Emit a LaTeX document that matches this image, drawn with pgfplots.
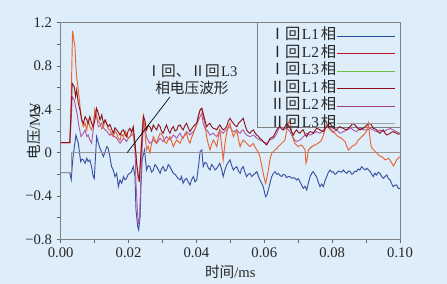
\documentclass[border=0pt]{standalone}
\usepackage{pgfplots}
\pgfplotsset{compat=1.18}
\usepackage{fontspec}
\setmainfont{Liberation Serif}
\newfontfamily\cjk{Noto Sans CJK SC}
\definecolor{bg}{RGB}{221,238,250}
\definecolor{cblue}{RGB}{58,80,160}
\definecolor{corange}{RGB}{232,100,50}
\definecolor{cdred}{RGB}{140,20,30}
\definecolor{cpurple}{RGB}{176,90,168}
\definecolor{cgreen}{RGB}{120,190,60}
\definecolor{cgrey}{RGB}{150,150,150}
\definecolor{lblue}{RGB}{32,80,160}
\definecolor{lred}{RGB}{192,16,42}
\definecolor{lgreen}{RGB}{112,192,64}
\definecolor{ldred}{RGB}{139,10,26}
\definecolor{lpurple}{RGB}{160,64,128}
\definecolor{lgrey}{RGB}{160,160,160}
\begin{document}
\begin{tikzpicture}
\fill[bg] (-45.5pt,-33.5pt) rectangle (289.75pt,179.5pt);
\useasboundingbox (-45.5pt,-33.5pt) rectangle (289.75pt,179.5pt);
\begin{axis}[
  at={(0pt,0pt)}, anchor=south west,
  scale only axis, width=254.5pt, height=162.5pt,
  xmin=0, xmax=0.1, ymin=-0.8, ymax=1.2,
  axis line style={draw=black!50, line width=0.7pt},
  tick style={draw=black!60, line width=0.6pt},
  tick align=outside, tick pos=left,
  major tick length=3pt, minor tick length=3pt,
  xtick={0,0.02,0.04,0.06,0.08,0.1},
  xticklabels={0.00,0.02,0.04,0.06,0.08,0.10},
  minor xtick={0.01,0.03,0.05,0.07,0.09},
  ytick={-0.8,-0.4,0,0.4,0.8,1.2},
  yticklabels={−0.8,−0.4,0,0.4,0.8,1.2},
  minor ytick={-0.6,-0.2,0.2,0.6,1.0},
  tick label style={font=\fontsize{11}{13}\selectfont, text=black!85},
  xlabel={{\cjk 时间}/ms},
  label style={font=\fontsize{11}{13}\selectfont, text=black!85},
  xlabel style={at={(axis description cs:0.5,-0.152)}, anchor=center},
  legend style={at={(rel axis cs:1,1)}, anchor=north east, draw=none, fill=none,
    font=\fontsize{11.5}{12}\selectfont, text=black!85, inner xsep=3pt, inner ysep=4.6pt, row sep=2.1pt,
    nodes={inner sep=0.5pt, text height=7.5pt, text depth=2.5pt}},
  legend cell align=left, legend plot pos=right,
  legend image code/.code={\draw[#1] (0pt,0pt) -- (43.5pt,0pt);},
  clip=true,
]
\addlegendimage{color=lblue, line width=0.6pt}
\addlegendentry{{\cjk Ⅰ回}\hspace{1pt}L1\hspace{1.5pt}{\cjk 相}}
\addlegendimage{color=lred, line width=0.6pt}
\addlegendentry{{\cjk Ⅰ回}\hspace{1pt}L2\hspace{1.5pt}{\cjk 相}}
\addlegendimage{color=lgreen, line width=0.6pt}
\addlegendentry{{\cjk Ⅰ回}\hspace{1pt}L3\hspace{1.5pt}{\cjk 相}}
\addlegendimage{color=ldred, line width=0.6pt}
\addlegendentry{{\cjk Ⅱ回}\hspace{1pt}L1\hspace{1.5pt}{\cjk 相}}
\addlegendimage{color=lpurple, line width=0.6pt}
\addlegendentry{{\cjk Ⅱ回}\hspace{1pt}L2\hspace{1.5pt}{\cjk 相}}
\addlegendimage{color=lgrey, line width=0.6pt}
\addlegendentry{{\cjk Ⅱ回}\hspace{1pt}L3\hspace{1.5pt}{\cjk 相}}

% legend frame (drawn under the curves)
\draw[black!50, line width=0.7pt] (axis cs:0.0581,0.228) rectangle (axis cs:0.1,1.2);

% I L3 (green)
\addplot[forget plot, color=cgreen, line width=0.7pt] coordinates {
(0,-0.185) (0.0033,-0.185) (0.0033,0) (0.1,0)};
% I L1 (blue)
\addplot[forget plot, color=cblue, line width=0.7pt] coordinates {
(0,-0.185) (0.0027,-0.185) (0.0031,-0.25) (0.0036,-0.05) (0.0045,0.163) (0.0052,0.086) (0.0059,-0.083) (0.0063,-0.06) (0.0067,-0.067) (0.0072,-0.098) (0.0077,-0.052) (0.0081,-0.083) (0.0086,-0.067) (0.0091,-0.129) (0.0096,-0.221) (0.0099,-0.24) (0.0106,0.148) (0.0111,0.09) (0.0116,0.04) (0.0126,-0.037) (0.0136,0.056) (0.0140,0.04) (0.0145,-0.037) (0.0150,-0.129) (0.0155,-0.16) (0.0160,-0.221) (0.0165,-0.191) (0.0170,-0.314) (0.0175,-0.252) (0.0180,-0.283) (0.0185,-0.221) (0.0190,-0.25) (0.0194,-0.237) (0.0199,-0.2) (0.0204,-0.191) (0.0209,-0.175) (0.0214,-0.129) (0.0219,-0.221) (0.0222,-0.53) (0.0227,-0.683) (0.0230,-0.714) (0.0234,-0.591) (0.0237,-0.283) (0.0240,-0.067) (0.0247,0.025) (0.0253,-0.16) (0.0258,-0.12) (0.0263,-0.129) (0.0268,-0.18) (0.0273,-0.16) (0.0278,-0.11) (0.0283,-0.129) (0.0288,-0.16) (0.0293,-0.191) (0.0297,-0.15) (0.0302,-0.129) (0.0307,-0.17) (0.0312,-0.16) (0.0317,-0.11) (0.0322,-0.129) (0.0327,-0.16) (0.0332,-0.191) (0.0337,-0.2) (0.0342,-0.221) (0.0347,-0.24) (0.0352,-0.252) (0.0356,-0.22) (0.0361,-0.283) (0.0366,-0.25) (0.0371,-0.237) (0.0376,-0.27) (0.0381,-0.298) (0.0386,-0.25) (0.0391,-0.221) (0.0396,-0.27) (0.0401,-0.252) (0.0406,-0.129) (0.0411,0.01) (0.0416,0.025) (0.0420,-0.129) (0.0425,-0.09) (0.0430,-0.098) (0.0435,-0.14) (0.0440,-0.16) (0.0445,-0.11) (0.0450,-0.129) (0.0455,-0.16) (0.0460,-0.145) (0.0465,-0.12) (0.0469,-0.098) (0.0474,-0.15) (0.0479,-0.221) (0.0484,-0.16) (0.0489,-0.114) (0.0494,-0.09) (0.0499,-0.067) (0.0504,-0.12) (0.0509,-0.16) (0.0514,-0.14) (0.0519,-0.129) (0.0524,-0.17) (0.0529,-0.191) (0.0533,-0.15) (0.0538,-0.129) (0.0543,-0.18) (0.0548,-0.221) (0.0553,-0.2) (0.0558,-0.191) (0.0563,-0.22) (0.0568,-0.206) (0.0573,-0.19) (0.0578,-0.175) (0.0583,-0.22) (0.0587,-0.252) (0.0592,-0.28) (0.0597,-0.314) (0.0601,-0.37) (0.0604,-0.406) (0.0608,-0.39) (0.0612,-0.344) (0.0617,-0.28) (0.0622,-0.221) (0.0627,-0.19) (0.0632,-0.175) (0.0637,-0.2) (0.0641,-0.191) (0.0646,-0.21) (0.0651,-0.221) (0.0656,-0.2) (0.0661,-0.206) (0.0666,-0.23) (0.0671,-0.221) (0.0676,-0.22) (0.0681,-0.237) (0.0688,-0.23) (0.0695,-0.252) (0.0700,-0.24) (0.0705,-0.268) (0.0710,-0.3) (0.0715,-0.329) (0.0720,-0.31) (0.0725,-0.344) (0.0730,-0.28) (0.0735,-0.221) (0.0740,-0.19) (0.0744,-0.175) (0.0749,-0.2) (0.0754,-0.221) (0.0759,-0.27) (0.0764,-0.314) (0.0769,-0.29) (0.0774,-0.314) (0.0779,-0.26) (0.0784,-0.221) (0.0789,-0.18) (0.0794,-0.16) (0.0798,-0.18) (0.0803,-0.175) (0.0808,-0.2) (0.0813,-0.191) (0.0818,-0.17) (0.0823,-0.175) (0.0828,-0.18) (0.0833,-0.16) (0.0838,-0.18) (0.0843,-0.191) (0.0848,-0.17) (0.0853,-0.175) (0.0858,-0.2) (0.0862,-0.191) (0.0867,-0.17) (0.0872,-0.175) (0.0877,-0.15) (0.0882,-0.16) (0.0887,-0.13) (0.0892,-0.145) (0.0897,-0.16) (0.0902,-0.145) (0.0907,-0.16) (0.0912,-0.175) (0.0917,-0.2) (0.0921,-0.221) (0.0926,-0.19) (0.0931,-0.206) (0.0936,-0.18) (0.0941,-0.191) (0.0946,-0.22) (0.0951,-0.237) (0.0956,-0.22) (0.0961,-0.206) (0.0966,-0.24) (0.0971,-0.252) (0.0976,-0.29) (0.0980,-0.314) (0.0985,-0.3) (0.0990,-0.298) (0.0995,-0.33) (0.1,-0.329)};
% II L3 (grey)
\addplot[forget plot, color=cgrey, line width=0.7pt] coordinates {
(0,-0.185) (0.0031,-0.185) (0.0031,0) (0.1,0)};
% II L2 (purple)
\addplot[forget plot, color=cpurple, line width=0.7pt] coordinates {
(0,0.093) (0.0027,0.093) (0.0031,0.3) (0.0034,0.517) (0.0040,0.487) (0.0044,0.425) (0.0048,0.363) (0.0054,0.24) (0.0060,0.148) (0.0067,0.179) (0.0072,0.21) (0.0077,0.148) (0.0081,0.164) (0.0086,0.117) (0.0091,0.087) (0.0096,0.21) (0.0101,0.394) (0.0106,0.333) (0.0111,0.24) (0.0116,0.25) (0.0121,0.271) (0.0126,0.23) (0.0131,0.21) (0.0136,0.2) (0.0140,0.179) (0.0145,0.16) (0.0150,0.179) (0.0155,0.15) (0.0160,0.148) (0.0165,0.133) (0.0170,0.11) (0.0175,0.086) (0.0180,0.11) (0.0185,0.133) (0.0190,0.12) (0.0194,0.102) (0.0199,0.13) (0.0204,0.148) (0.0209,0.16) (0.0214,0.179) (0.0219,0.025) (0.0222,-0.283) (0.0226,-0.53) (0.0229,-0.653) (0.0232,-0.622) (0.0236,-0.283) (0.0240,0.025) (0.0244,0.271) (0.0249,0.21) (0.0253,0.148) (0.0258,0.11) (0.0263,0.086) (0.0268,0.1) (0.0273,0.117) (0.0278,0.1) (0.0283,0.086) (0.0288,0.11) (0.0293,0.133) (0.0297,0.12) (0.0302,0.102) (0.0307,0.13) (0.0312,0.148) (0.0317,0.13) (0.0322,0.117) (0.0327,0.14) (0.0332,0.163) (0.0337,0.15) (0.0342,0.133) (0.0347,0.16) (0.0352,0.179) (0.0356,0.15) (0.0361,0.133) (0.0366,0.17) (0.0371,0.194) (0.0376,0.18) (0.0381,0.163) (0.0386,0.18) (0.0391,0.194) (0.0396,0.22) (0.0401,0.256) (0.0406,0.3) (0.0411,0.333) (0.0416,0.363) (0.0420,0.27) (0.0425,0.225) (0.0430,0.21) (0.0435,0.19) (0.0440,0.163) (0.0445,0.17) (0.0450,0.179) (0.0455,0.16) (0.0460,0.148) (0.0465,0.18) (0.0469,0.21) (0.0474,0.19) (0.0479,0.179) (0.0484,0.2) (0.0489,0.21) (0.0494,0.23) (0.0499,0.24) (0.0504,0.21) (0.0509,0.194) (0.0514,0.2) (0.0519,0.21) (0.0524,0.19) (0.0529,0.179) (0.0533,0.2) (0.0538,0.21) (0.0543,0.18) (0.0548,0.163) (0.0553,0.155) (0.0558,0.148) (0.0563,0.155) (0.0568,0.163) (0.0573,0.15) (0.0578,0.133) (0.0583,0.125) (0.0587,0.117) (0.0592,0.11) (0.0597,0.102) (0.0602,0.095) (0.0607,0.086) (0.0612,0.1) (0.0617,0.117) (0.0622,0.125) (0.0627,0.133) (0.0632,0.15) (0.0637,0.179) (0.0641,0.21) (0.0646,0.24) (0.0651,0.225) (0.0656,0.21) (0.0661,0.22) (0.0666,0.225) (0.0671,0.21) (0.0676,0.194) (0.0681,0.16) (0.0686,0.133) (0.0690,0.115) (0.0695,0.102) (0.0700,0.11) (0.0705,0.117) (0.0710,0.13) (0.0715,0.148) (0.0720,0.16) (0.0725,0.179) (0.0730,0.17) (0.0735,0.163) (0.0740,0.17) (0.0744,0.179) (0.0749,0.185) (0.0754,0.194) (0.0759,0.185) (0.0764,0.179) (0.0769,0.195) (0.0774,0.21) (0.0779,0.225) (0.0784,0.24) (0.0789,0.23) (0.0794,0.225) (0.0798,0.21) (0.0803,0.194) (0.0808,0.2) (0.0813,0.21) (0.0818,0.195) (0.0823,0.179) (0.0828,0.185) (0.0833,0.194) (0.0838,0.2) (0.0843,0.21) (0.0848,0.215) (0.0853,0.225) (0.0858,0.22) (0.0862,0.21) (0.0867,0.2) (0.0872,0.194) (0.0877,0.21) (0.0882,0.225) (0.0887,0.215) (0.0892,0.21) (0.0897,0.21) (0.0902,0.21) (0.0907,0.215) (0.0912,0.225) (0.0917,0.215) (0.0921,0.21) (0.0926,0.2) (0.0931,0.194) (0.0936,0.2) (0.0941,0.21) (0.0946,0.2) (0.0951,0.194) (0.0956,0.2) (0.0961,0.21) (0.0966,0.215) (0.0971,0.225) (0.0976,0.215) (0.0980,0.21) (0.0985,0.2) (0.0990,0.194) (0.0995,0.185) (0.1,0.179)};
% I L2 (orange)
\addplot[forget plot, color=corange, line width=0.7pt] coordinates {
(0,0.093) (0.0027,0.093) (0.0031,0.5) (0.0035,1.127) (0.0039,1.04) (0.0042,0.979) (0.0045,0.79) (0.0047,0.702) (0.0052,0.58) (0.0057,0.43) (0.0062,0.30) (0.0067,0.24) (0.0072,0.271) (0.0077,0.21) (0.0081,0.302) (0.0086,0.24) (0.0091,0.21) (0.0096,0.271) (0.0101,0.394) (0.0106,0.333) (0.0111,0.29) (0.0116,0.271) (0.0121,0.22) (0.0126,0.24) (0.0131,0.3) (0.0136,0.271) (0.0140,0.22) (0.0145,0.21) (0.0150,0.17) (0.0155,0.148) (0.0160,0.2) (0.0165,0.179) (0.0170,0.13) (0.0175,0.117) (0.0180,0.17) (0.0185,0.148) (0.0190,0.2) (0.0194,0.179) (0.0199,0.13) (0.0204,0.148) (0.0209,0.19) (0.0214,0.21) (0.0219,0.086) (0.0224,-0.098) (0.0229,-0.25) (0.0233,-0.2) (0.0237,0.05) (0.0241,0.25) (0.0244,0.36) (0.0248,0.2) (0.0253,0.025) (0.0258,0.06) (0.0263,0.0) (0.0268,0.08) (0.0273,0.148) (0.0278,0.12) (0.0283,0.086) (0.0288,0.14) (0.0293,0.179) (0.0297,0.17) (0.0302,0.148) (0.0307,0.1) (0.0312,0.086) (0.0317,0.12) (0.0322,0.148) (0.0327,0.1) (0.0332,0.056) (0.0337,0.09) (0.0342,0.117) (0.0347,0.1) (0.0352,0.086) (0.0356,0.12) (0.0361,0.148) (0.0366,0.16) (0.0371,0.179) (0.0376,0.12) (0.0381,0.086) (0.0386,0.14) (0.0391,0.179) (0.0396,0.22) (0.0401,0.271) (0.0406,0.34) (0.0411,0.394) (0.0416,0.41) (0.0420,0.33) (0.0425,0.27) (0.0430,0.148) (0.0435,0.08) (0.0440,0.025) (0.0445,0.08) (0.0450,0.117) (0.0455,0.09) (0.0460,0.056) (0.0465,0.15) (0.0469,0.21) (0.0474,0.08) (0.0479,-0.067) (0.0484,0.08) (0.0489,0.179) (0.0494,0.24) (0.0499,0.271) (0.0504,0.2) (0.0509,0.148) (0.0514,0.18) (0.0519,0.21) (0.0524,0.12) (0.0529,0.056) (0.0533,0.09) (0.0538,0.117) (0.0543,0.1) (0.0548,0.086) (0.0553,0.07) (0.0558,0.056) (0.0563,0.07) (0.0568,0.086) (0.0573,0.05) (0.0578,0.025) (0.0583,0.0) (0.0587,-0.037) (0.0592,-0.11) (0.0597,-0.191) (0.0601,-0.25) (0.0604,-0.283) (0.0608,-0.23) (0.0612,-0.16) (0.0617,-0.06) (0.0622,-0.006) (0.0627,0.01) (0.0632,0.025) (0.0637,0.04) (0.0641,0.056) (0.0646,0.07) (0.0651,0.086) (0.0656,0.1) (0.0661,0.117) (0.0666,0.2) (0.0671,0.271) (0.0676,0.302) (0.0681,0.179) (0.0686,0.12) (0.0690,0.086) (0.0695,0.07) (0.0700,0.056) (0.0705,0.065) (0.0710,0.071) (0.0715,0.05) (0.0720,0.025) (0.0723,-0.098) (0.0727,-0.05) (0.0730,0.025) (0.0735,0.04) (0.0740,0.056) (0.0749,0.07) (0.0759,0.087) (0.0764,0.1) (0.0769,0.117) (0.0774,0.16) (0.0779,0.21) (0.0784,0.271) (0.0789,0.24) (0.0794,0.21) (0.0801,0.19) (0.0809,0.179) (0.0813,0.16) (0.0818,0.148) (0.0823,0.14) (0.0828,0.133) (0.0833,0.115) (0.0838,0.102) (0.0843,0.06) (0.0848,0.025) (0.0853,0.04) (0.0858,0.056) (0.0862,0.065) (0.0867,0.071) (0.0872,0.09) (0.0877,0.117) (0.0882,0.13) (0.0887,0.148) (0.0892,0.16) (0.0897,0.179) (0.0902,0.2) (0.0907,0.271) (0.0911,0.15) (0.0915,0.056) (0.0921,0.03) (0.0927,0.01) (0.0931,0.0) (0.0936,-0.021) (0.0941,-0.03) (0.0946,-0.037) (0.0951,-0.05) (0.0956,-0.067) (0.0961,-0.06) (0.0966,-0.052) (0.0971,-0.07) (0.0976,-0.098) (0.0981,-0.123) (0.0985,-0.1) (0.0990,-0.067) (0.0995,-0.05) (0.1,-0.037)};
% II L1 (dark red)
\addplot[forget plot, color=cdred, line width=0.7pt] coordinates {
(0,0.093) (0.0027,0.093) (0.0031,0.4) (0.0034,0.64) (0.0040,0.61) (0.0044,0.52) (0.0047,0.579) (0.0052,0.456) (0.0057,0.394) (0.0062,0.302) (0.0067,0.271) (0.0072,0.333) (0.0077,0.302) (0.0081,0.271) (0.0086,0.333) (0.0091,0.271) (0.0096,0.24) (0.0101,0.302) (0.0106,0.41) (0.0111,0.363) (0.0116,0.302) (0.0121,0.348) (0.0126,0.271) (0.0131,0.302) (0.0136,0.26) (0.0140,0.24) (0.0145,0.26) (0.0150,0.22) (0.0155,0.179) (0.0160,0.23) (0.0165,0.21) (0.0170,0.19) (0.0175,0.163) (0.0180,0.2) (0.0185,0.21) (0.0190,0.17) (0.0194,0.148) (0.0199,0.2) (0.0204,0.225) (0.0209,0.19) (0.0214,0.24) (0.0219,0.086) (0.0224,-0.098) (0.0229,-0.221) (0.0232,-0.252) (0.0236,-0.037) (0.0240,0.148) (0.0244,0.333) (0.0248,0.302) (0.0253,0.21) (0.0258,0.25) (0.0263,0.24) (0.0268,0.2) (0.0273,0.256) (0.0278,0.23) (0.0283,0.21) (0.0288,0.26) (0.0293,0.24) (0.0297,0.2) (0.0302,0.179) (0.0307,0.22) (0.0312,0.256) (0.0317,0.21) (0.0322,0.179) (0.0327,0.22) (0.0332,0.24) (0.0337,0.2) (0.0342,0.21) (0.0347,0.25) (0.0352,0.256) (0.0356,0.23) (0.0361,0.21) (0.0366,0.25) (0.0371,0.271) (0.0376,0.23) (0.0381,0.194) (0.0386,0.22) (0.0391,0.24) (0.0396,0.26) (0.0401,0.271) (0.0406,0.34) (0.0411,0.394) (0.0416,0.41) (0.0420,0.363) (0.0425,0.3) (0.0430,0.24) (0.0435,0.26) (0.0440,0.271) (0.0445,0.24) (0.0450,0.225) (0.0455,0.22) (0.0460,0.21) (0.0465,0.24) (0.0469,0.256) (0.0474,0.23) (0.0479,0.21) (0.0484,0.22) (0.0489,0.24) (0.0494,0.29) (0.0499,0.317) (0.0504,0.29) (0.0509,0.271) (0.0514,0.25) (0.0519,0.24) (0.0524,0.27) (0.0529,0.287) (0.0533,0.3) (0.0538,0.317) (0.0543,0.26) (0.0548,0.21) (0.0553,0.19) (0.0558,0.179) (0.0563,0.2) (0.0568,0.21) (0.0573,0.18) (0.0578,0.163) (0.0583,0.15) (0.0587,0.133) (0.0592,0.12) (0.0597,0.102) (0.0602,0.085) (0.0607,0.071) (0.0612,0.1) (0.0617,0.133) (0.0622,0.14) (0.0627,0.148) (0.0632,0.18) (0.0637,0.21) (0.0641,0.23) (0.0646,0.24) (0.0651,0.22) (0.0656,0.21) (0.0661,0.24) (0.0666,0.271) (0.0671,0.25) (0.0676,0.225) (0.0681,0.19) (0.0686,0.163) (0.0690,0.19) (0.0695,0.21) (0.0700,0.19) (0.0705,0.179) (0.0710,0.2) (0.0715,0.21) (0.0720,0.17) (0.0725,0.148) (0.0730,0.18) (0.0735,0.194) (0.0740,0.19) (0.0744,0.179) (0.0749,0.2) (0.0754,0.225) (0.0759,0.22) (0.0764,0.21) (0.0769,0.2) (0.0774,0.194) (0.0779,0.22) (0.0784,0.24) (0.0789,0.26) (0.0794,0.271) (0.0798,0.25) (0.0803,0.225) (0.0808,0.22) (0.0813,0.21) (0.0818,0.23) (0.0823,0.24) (0.0828,0.23) (0.0833,0.225) (0.0838,0.215) (0.0843,0.21) (0.0848,0.23) (0.0853,0.24) (0.0858,0.26) (0.0862,0.271) (0.0867,0.255) (0.0872,0.24) (0.0877,0.22) (0.0882,0.21) (0.0887,0.22) (0.0892,0.225) (0.0897,0.24) (0.0902,0.256) (0.0907,0.265) (0.0912,0.271) (0.0917,0.25) (0.0921,0.225) (0.0926,0.22) (0.0931,0.21) (0.0936,0.19) (0.0941,0.179) (0.0946,0.2) (0.0951,0.21) (0.0956,0.18) (0.0961,0.163) (0.0966,0.17) (0.0971,0.179) (0.0976,0.19) (0.0980,0.194) (0.0985,0.185) (0.0990,0.179) (0.0995,0.17) (0.1,0.173)};

\draw[black, line width=0.5pt] (axis cs:0.0322,0.514) -- (axis cs:0.0196,0);
\node[align=center, font=\fontsize{11}{12.5}\selectfont, text=black!85, inner sep=0pt] at (axis cs:0.0387,0.671) {{\cjk Ⅰ回、Ⅱ回}\hspace{1pt}L3\\{\cjk 相电压波形}};
\end{axis}
\node[rotate=90, anchor=center, inner sep=0pt, font=\fontsize{11}{13}\selectfont, text=black!85] at (-20pt,81.25pt) {{\cjk 电压}/MV};
\end{tikzpicture}
\end{document}
